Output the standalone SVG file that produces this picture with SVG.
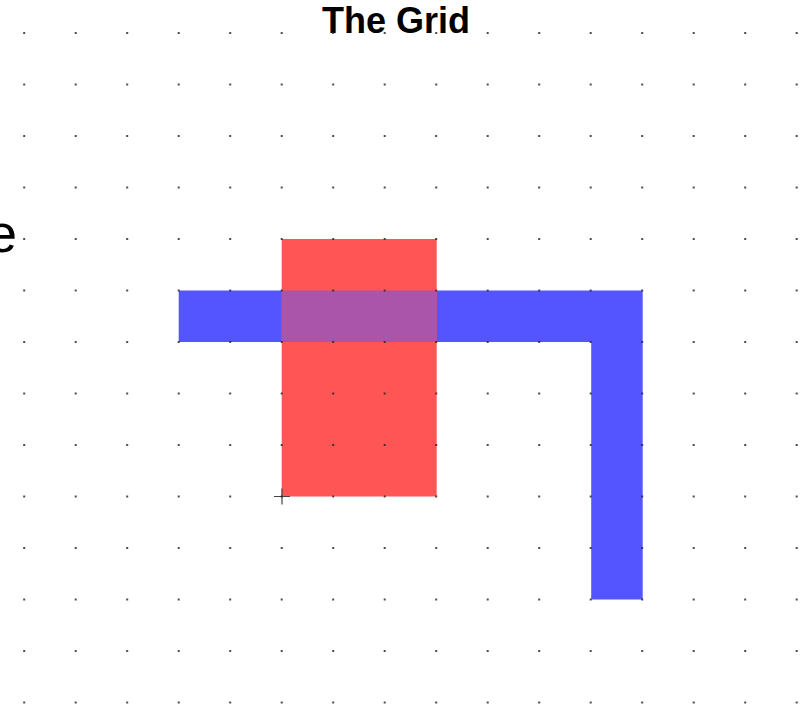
<svg xmlns="http://www.w3.org/2000/svg" width="806" height="707" viewBox="0 0 806 707">
  <style>
    .title { font-family: "Liberation Sans", Arial, sans-serif; font-weight: bold; font-size: 36px; fill: #000; }
    .side { font-family: "Liberation Sans", Arial, sans-serif; font-size: 54px; fill: #000; }
    .blue { fill: #5555ff; }
    .red { fill: #ff5555; }
    .overlap { fill: #aa55aa; }
    .cross { stroke: #444; stroke-width: 1.2; fill: none; }
  </style>
  <defs>
    <pattern id="dots" patternUnits="userSpaceOnUse" x="-1.55" y="7.25" width="51.5" height="51.5">
      <circle cx="25.75" cy="25.75" r="1.1" fill="#222"/>
    </pattern>
  </defs>
  <rect width="806" height="707" fill="#fff"/>
  <g id="title">
    <text class="title" x="396" y="33" text-anchor="middle">The Grid</text>
  </g>
  <g id="side-label">
    <text class="side" x="17" y="252" text-anchor="end">e</text>
  </g>
  <g id="blue-shape">
    <path class="blue" d="M178.7,290.5 H642.7 V599.5 H591.2 V342 H178.7 Z"/>
  </g>
  <g id="red-shape">
    <rect class="red" x="281.7" y="239" width="155" height="257.5"/>
    <rect class="overlap" x="281.7" y="290.5" width="155" height="51.5"/>
  </g>
  <g id="crosshair">
    <path class="cross" d="M274,496.5 H290 M282,488.5 V504.5"/>
  </g>
  <g id="grid">
    <rect width="806" height="707" fill="url(#dots)"/>
  </g>
</svg>
